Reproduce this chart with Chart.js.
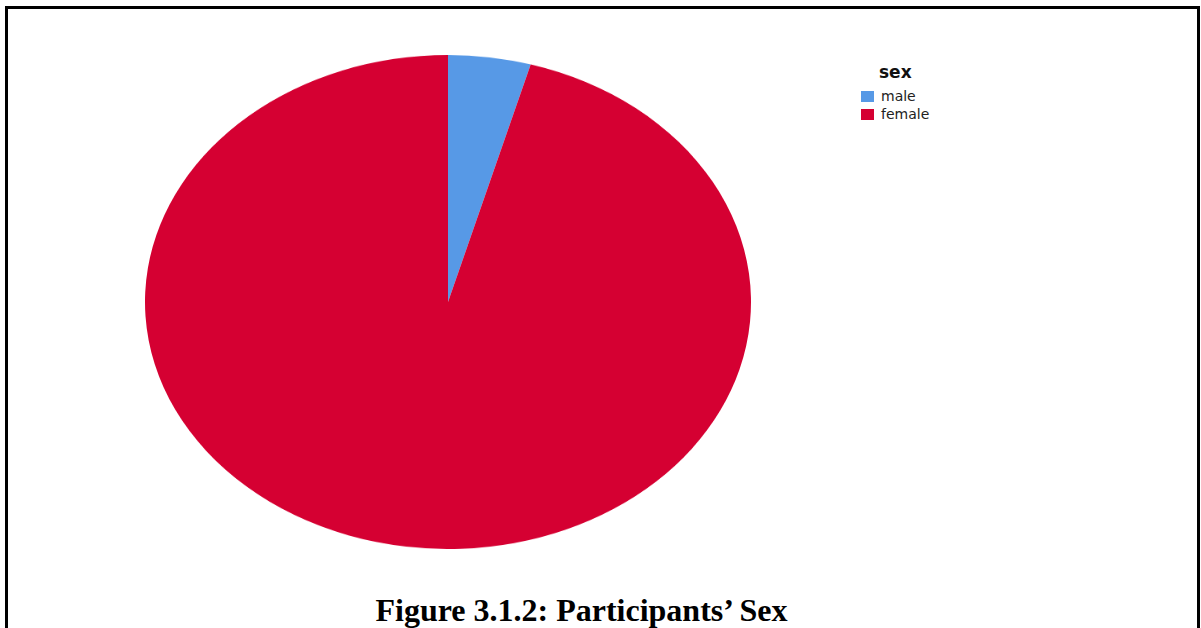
<!DOCTYPE html>
<html>
<head>
<meta charset="utf-8">
<script src="https://cdn.jsdelivr.net/npm/chart.js@4.4.1/dist/chart.umd.min.js"></script>
<style>
  html, body { margin: 0; padding: 0; background: #fff; }
  body { width: 1201px; height: 628px; position: relative; overflow: hidden; }
  #frame {
    position: absolute; left: 5px; top: 6px; width: 1189px; height: 700px;
    border: 3px solid #000;
  }
  /* the pie is drawn round and squashed into an ellipse */
  #pieWrap {
    position: absolute; left: 145px; top: 55px; width: 606px; height: 606px;
    transform: scaleY(0.8152); transform-origin: 0 0;
  }
  #legend { position: absolute; left: 861px; top: 62px; font-family: "DejaVu Sans", sans-serif; }
  #legend .head { font-weight: bold; font-size: 17px; margin-left: 18px; margin-bottom: 5px; color: #111; }
  #legend .item { display: flex; align-items: center; font-size: 14px; height: 18px; color: #222; }
  #legend .box { width: 13px; height: 11px; margin-right: 7px; }
  #caption {
    position: absolute; left: 0; width: 1163px; top: 592px; text-align: center;
    font-family: "Liberation Serif", "Times New Roman", serif; font-weight: bold; font-size: 32px;
  }
</style>
</head>
<body>
<div id="frame"></div>
<div id="pieWrap"><canvas id="myChart"></canvas></div>
<div id="legend"></div>
<div id="caption">Figure 3.1.2: Participants’ Sex</div>
<script>
var legendTitle = "sex";
var labels = ["male", "female"];
var percents = [4.4, 95.6];
var colors = ["#5799e6", "#d50032"];

var ctx = document.getElementById("myChart").getContext("2d");
var chart = new Chart(ctx, {
  type: "pie",
  data: {
    labels: labels,
    datasets: [
      {
        data: percents,
        backgroundColor: colors,
        borderWidth: 0
      }
    ]
  },
  options: {
    responsive: true,
    maintainAspectRatio: true,
    aspectRatio: 1,
    animation: false,
    layout: { padding: 0 },
    plugins: {
      legend: { display: false },
      tooltip: { enabled: false }
    }
  }
});

// legend built from the same arrays
var legend = document.getElementById("legend");
var html = '<div class="head">' + legendTitle + '</div>';
labels.forEach(function (name, i) {
  html += '<div class="item"><span class="box" style="background:' + colors[i] + '"></span>' + name + '</div>';
});
legend.innerHTML = html;
</script>
</body>
</html>
